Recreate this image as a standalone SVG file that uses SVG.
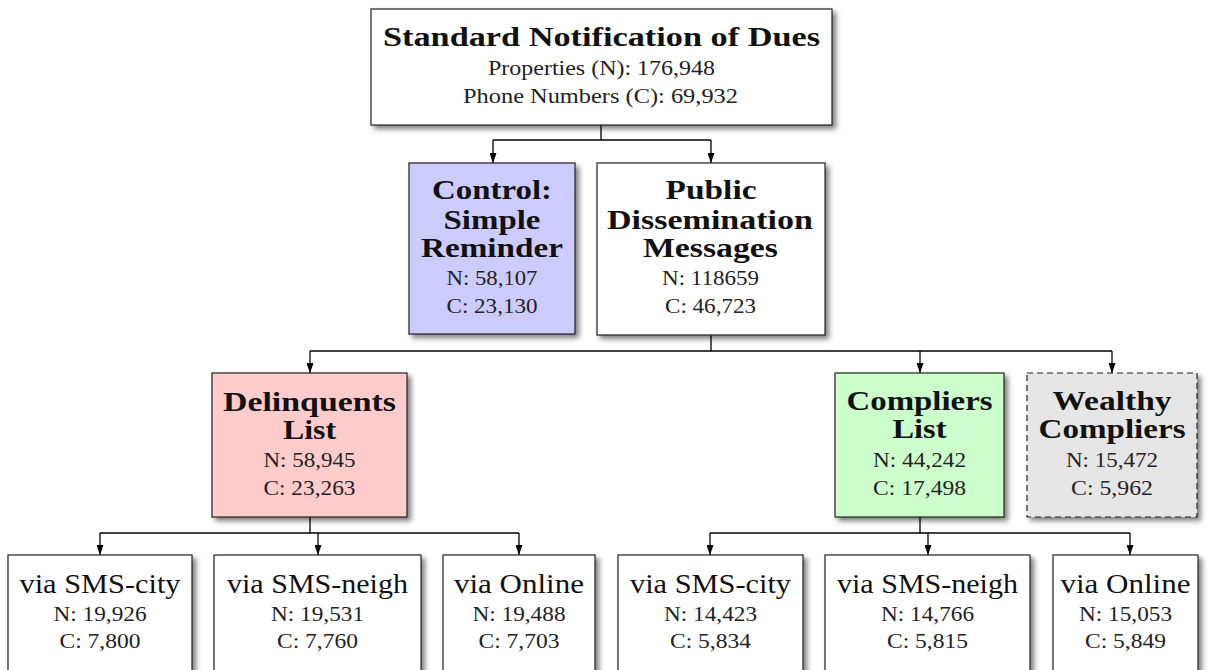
<svg xmlns="http://www.w3.org/2000/svg" width="1208" height="670" viewBox="0 0 1208 670">
<defs>
<filter id="sh" x="-10%" y="-10%" width="130%" height="130%">
<feDropShadow dx="3.5" dy="3.5" stdDeviation="2.5" flood-color="#000" flood-opacity="0.5"/>
</filter>
<marker id="ah" markerUnits="userSpaceOnUse" markerWidth="10" markerHeight="7" refX="10" refY="3.5" orient="auto" viewBox="0 0 10 7">
<path d="M0,0 L10,3.5 L0,7 z" fill="#000"/>
</marker>
</defs>
<style>
.box{stroke:#222;stroke-width:1.2;fill:#fff;filter:url(#sh)}
.b{font-family:"Liberation Serif",serif;font-weight:bold;font-size:27px;fill:#111;text-anchor:middle}
.r{font-family:"Liberation Serif",serif;font-size:21px;fill:#222;text-anchor:middle}
.v{font-family:"Liberation Serif",serif;font-size:27px;fill:#111;text-anchor:middle}
.c{fill:none;stroke:#000;stroke-width:1.3}
.a{marker-end:url(#ah)}
</style>
<rect width="1208" height="670" fill="#fff"/>
<g id="connectors">
<path class="c" d="M601,125 V140 M493,140 H711"/>
<path class="c a" d="M493,140 V163"/>
<path class="c a" d="M711,140 V163"/>
<path class="c" d="M711,335 V351 M310,351 H1112"/>
<path class="c a" d="M310,351 V373"/>
<path class="c a" d="M920,351 V373"/>
<path class="c a" d="M1112,351 V373"/>
<path class="c" d="M310,517 V533 M100,533 H519"/>
<path class="c a" d="M100,533 V555"/>
<path class="c a" d="M318,533 V555"/>
<path class="c a" d="M519,533 V555"/>
<path class="c" d="M920,517 V533 M710,533 H1130"/>
<path class="c a" d="M710,533 V555"/>
<path class="c a" d="M928,533 V555"/>
<path class="c a" d="M1130,533 V555"/>
</g>
<g id="root">
<rect class="box" x="371" y="9" width="461" height="116"/>
<text class="b" x="601.5" y="46" textLength="437" lengthAdjust="spacingAndGlyphs">Standard Notification of Dues</text>
<text class="r" x="601.5" y="75" textLength="227" lengthAdjust="spacingAndGlyphs">Properties (N): 176,948</text>
<text class="r" x="600.5" y="103" textLength="275" lengthAdjust="spacingAndGlyphs">Phone Numbers (C): 69,932</text>
</g>
<g id="control">
<rect class="box" x="409" y="163" width="166" height="171" style="fill:#ccccff"/>
<text class="b" x="492" y="199" textLength="120" lengthAdjust="spacingAndGlyphs">Control:</text>
<text class="b" x="492" y="229" textLength="97" lengthAdjust="spacingAndGlyphs">Simple</text>
<text class="b" x="492" y="257" textLength="142" lengthAdjust="spacingAndGlyphs">Reminder</text>
<text class="r" x="492" y="285" textLength="91" lengthAdjust="spacingAndGlyphs">N: 58,107</text>
<text class="r" x="492" y="313" textLength="91" lengthAdjust="spacingAndGlyphs">C: 23,130</text>
</g>
<g id="public">
<rect class="box" x="597" y="163" width="228" height="172"/>
<text class="b" x="711" y="199" textLength="91" lengthAdjust="spacingAndGlyphs">Public</text>
<text class="b" x="710" y="229" textLength="206" lengthAdjust="spacingAndGlyphs">Dissemination</text>
<text class="b" x="710.5" y="257" textLength="135" lengthAdjust="spacingAndGlyphs">Messages</text>
<text class="r" x="710.5" y="285" textLength="97" lengthAdjust="spacingAndGlyphs">N: 118659</text>
<text class="r" x="710.5" y="313" textLength="91" lengthAdjust="spacingAndGlyphs">C: 46,723</text>
</g>
<g id="delinquents">
<rect class="box" x="212" y="373" width="195" height="144" style="fill:#ffcccc"/>
<text class="b" x="309.5" y="411" textLength="173" lengthAdjust="spacingAndGlyphs">Delinquents</text>
<text class="b" x="309.5" y="439" textLength="53" lengthAdjust="spacingAndGlyphs">List</text>
<text class="r" x="309.5" y="467" textLength="92" lengthAdjust="spacingAndGlyphs">N: 58,945</text>
<text class="r" x="309.5" y="495" textLength="92" lengthAdjust="spacingAndGlyphs">C: 23,263</text>
</g>
<g id="compliers">
<rect class="box" x="835" y="373" width="169" height="144" style="fill:#ccffcc"/>
<text class="b" x="919.5" y="410" textLength="146" lengthAdjust="spacingAndGlyphs">Compliers</text>
<text class="b" x="919.5" y="438" textLength="54" lengthAdjust="spacingAndGlyphs">List</text>
<text class="r" x="919.5" y="467" textLength="93" lengthAdjust="spacingAndGlyphs">N: 44,242</text>
<text class="r" x="919.5" y="495" textLength="93" lengthAdjust="spacingAndGlyphs">C: 17,498</text>
</g>
<g id="wealthy">
<rect class="box" x="1027" y="373" width="170" height="144" style="fill:#e6e6e6;stroke-dasharray:6,4"/>
<text class="b" x="1112" y="410" textLength="119" lengthAdjust="spacingAndGlyphs">Wealthy</text>
<text class="b" x="1112" y="438" textLength="147" lengthAdjust="spacingAndGlyphs">Compliers</text>
<text class="r" x="1112" y="467" textLength="92" lengthAdjust="spacingAndGlyphs">N: 15,472</text>
<text class="r" x="1112" y="495" textLength="82" lengthAdjust="spacingAndGlyphs">C: 5,962</text>
</g>
<g id="d-sms-city">
<rect class="box" x="8" y="555" width="184" height="140"/>
<text class="v" x="100" y="593" textLength="161" lengthAdjust="spacingAndGlyphs">via SMS-city</text>
<text class="r" x="100" y="621" textLength="93" lengthAdjust="spacingAndGlyphs">N: 19,926</text>
<text class="r" x="100" y="648" textLength="81" lengthAdjust="spacingAndGlyphs">C: 7,800</text>
</g>
<g id="d-sms-neigh">
<rect class="box" x="214" y="555" width="207" height="140"/>
<text class="v" x="317.5" y="593" textLength="181" lengthAdjust="spacingAndGlyphs">via SMS-neigh</text>
<text class="r" x="317.5" y="621" textLength="93" lengthAdjust="spacingAndGlyphs">N: 19,531</text>
<text class="r" x="317.5" y="648" textLength="81" lengthAdjust="spacingAndGlyphs">C: 7,760</text>
</g>
<g id="d-online">
<rect class="box" x="443" y="555" width="152" height="140"/>
<text class="v" x="519" y="593" textLength="130" lengthAdjust="spacingAndGlyphs">via Online</text>
<text class="r" x="519" y="621" textLength="93" lengthAdjust="spacingAndGlyphs">N: 19,488</text>
<text class="r" x="519" y="648" textLength="81" lengthAdjust="spacingAndGlyphs">C: 7,703</text>
</g>
<g id="c-sms-city">
<rect class="box" x="618" y="555" width="185" height="140"/>
<text class="v" x="710.5" y="593" textLength="161" lengthAdjust="spacingAndGlyphs">via SMS-city</text>
<text class="r" x="710.5" y="621" textLength="93" lengthAdjust="spacingAndGlyphs">N: 14,423</text>
<text class="r" x="710.5" y="648" textLength="81" lengthAdjust="spacingAndGlyphs">C: 5,834</text>
</g>
<g id="c-sms-neigh">
<rect class="box" x="825" y="555" width="205" height="140"/>
<text class="v" x="927.5" y="593" textLength="181" lengthAdjust="spacingAndGlyphs">via SMS-neigh</text>
<text class="r" x="927.5" y="621" textLength="93" lengthAdjust="spacingAndGlyphs">N: 14,766</text>
<text class="r" x="927.5" y="648" textLength="81" lengthAdjust="spacingAndGlyphs">C: 5,815</text>
</g>
<g id="c-online">
<rect class="box" x="1053" y="555" width="145" height="140"/>
<text class="v" x="1125.5" y="593" textLength="130" lengthAdjust="spacingAndGlyphs">via Online</text>
<text class="r" x="1125.5" y="621" textLength="93" lengthAdjust="spacingAndGlyphs">N: 15,053</text>
<text class="r" x="1125.5" y="648" textLength="81" lengthAdjust="spacingAndGlyphs">C: 5,849</text>
</g>
</svg>
